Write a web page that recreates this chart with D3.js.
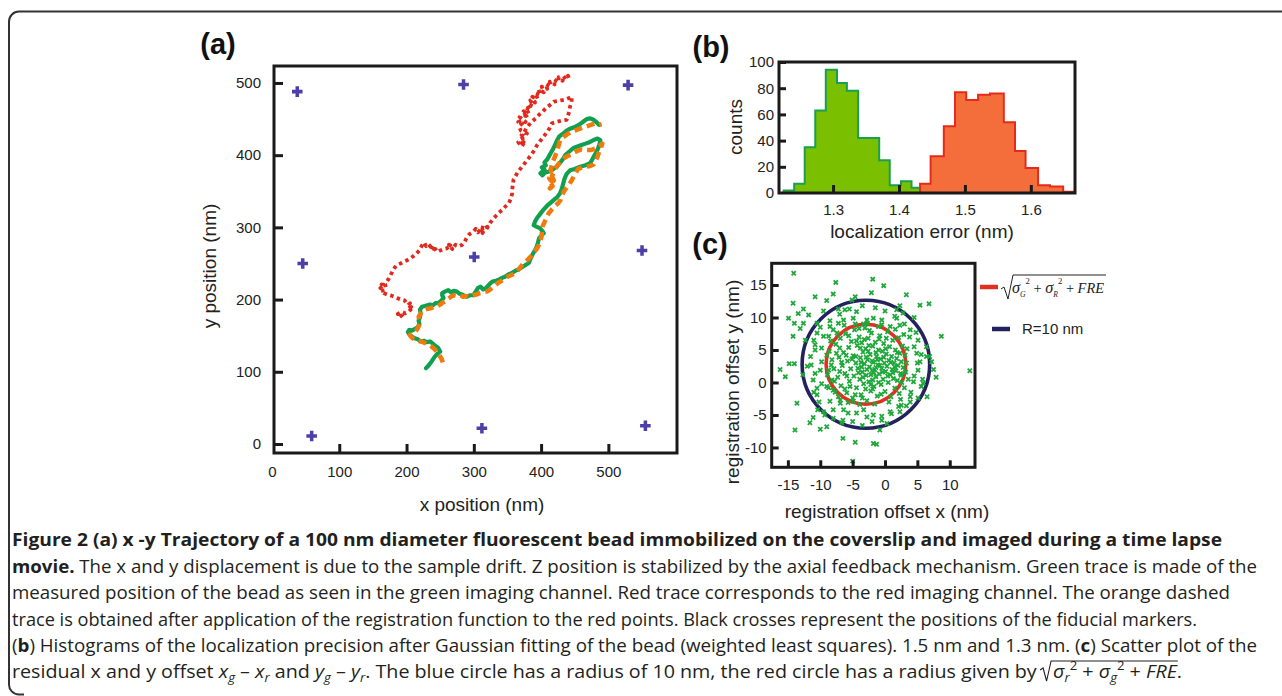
<!DOCTYPE html>
<html><head><meta charset="utf-8">
<script src="https://cdn.jsdelivr.net/npm/d3@7"></script>
<style>
html,body{margin:0;padding:0;background:#fff;}
svg{display:block;}
</style></head><body>
<svg id="fig" width="1282" height="696"></svg>
<script>
// ---------- Panel (a) data: trajectories (nm) ----------
const fiducials = [[37.6,488],[284.7,498],[529.3,497],[45.7,250],[300.6,259],[550,268],[59,11],[312,21.7],[555,25.3]];
const redTrace = [
[190,176],[194,179],[187,180],[193,183],[198,181],[203,183],[206,186],[201,188],[207,190],[202,192],[205,195],[199,196],[197,199],[192,200],[186,202],[181,204],[176,206],[171,207],[166,209],[162,212],[168,213],[161,216],[166,218],[163,221],[169,217],[168,222],[171,225],[173,228],[175,232],[178,237],[180,241],[183,245],[186,248],[191,250],[195,252],[200,254],[205,257],[210,260],[215,264],[219,268],[223,275],[226,279],[229,274],[232,277],[236,273],[239,276],[234,270],[240,271],[237,268],[243,270],[246,266],[250,268],[255,270],[260,271],[264,274],[268,270],[263,276],[270,272],[273,276],[278,274],[283,276],[286,279],[288,283],[291,288],[294,291],[299,294],[303,298],[306,293],[310,297],[313,292],[316,299],[309,301],[314,295],[320,301],[318,296],[324,306],[329,312],[333,316],[337,320],[342,324],[347,329],[352,333],[355,340],[357,347],[357,352],[358,359],[359,366],[362,371],[365,376],[370,382],[375,388],[380,394],[385,400],[390,407],[394,414],[399,420],[404,426],[409,432],[413,438],[416,444],[423,446],[431,448],[438,449],[440,455],[442,461],[443,467],[445,473],[446,481],[441,479],[436,477],[430,476],[425,475],[419,474],[414,470],[408,466],[402,460],[397,456],[392,451],[387,447],[382,442],[378,437],[375,432],[371,428],[377,425],[369,422],[374,418],[368,415],[376,419],[371,412],[366,418],[373,425],[379,430],[370,434],[367,440],[372,444],[366,446],[373,449],[377,446],[368,453],[375,456],[380,451],[374,461],[382,457],[377,466],[385,463],[380,471],[388,468],[384,476],[391,473],[387,481],[395,478],[391,486],[399,483],[396,491],[404,487],[401,495],[409,492],[407,499],[414,495],[413,502],[420,498],[419,505],[426,501],[426,508],[432,503],[433,510],[437,505],[440,510],[442,505]
];
const greenTrace = [
[229,105],[233,109],[237,114],[242,121],[246,125],[250,128],[247,133],[243,136],[239,139],[235,142],[230,141],[226,143],[221,142],[217,145],[213,146],[209,148],[205,151],[202,155],[204,158],[208,157],[212,159],[217,162],[219,166],[218,171],[220,176],[221,181],[220,186],[223,190],[227,191],[231,192],[235,193],[239,192],[243,195],[247,195],[251,198],[255,202],[253,206],[253,209],[257,211],[262,213],[266,210],[270,212],[275,211],[279,208],[283,207],[286,205],[290,204],[294,206],[299,206],[303,211],[306,216],[310,218],[314,214],[318,216],[321,219],[325,223],[328,225],[333,226],[338,228],[342,230],[347,232],[352,235],[357,237],[362,240],[367,242],[372,245],[377,248],[382,251],[384,256],[387,262],[390,267],[393,272],[395,278],[397,285],[401,289],[404,292],[401,296],[398,299],[393,301],[389,303],[391,308],[394,313],[399,319],[404,325],[409,330],[414,334],[419,338],[424,342],[428,347],[431,354],[433,361],[435,368],[438,374],[443,379],[450,381],[458,384],[466,386],[473,389],[476,394],[479,399],[482,404],[485,410],[487,416],[488,421],[484,423],[478,421],[472,418],[466,416],[460,414],[454,412],[448,410],[442,405],[436,400],[432,394],[428,389],[423,384],[417,380],[411,377],[406,376],[402,372],[399,375],[405,380],[401,383],[407,386],[405,390],[409,394],[412,399],[415,404],[418,409],[421,415],[424,421],[427,426],[433,430],[438,434],[444,437],[450,439],[456,442],[462,446],[468,450],[473,451],[478,449],[482,446],[486,442]
];
const orangeTrace = [
[254,113],[252,118],[248,124],[245,128],[241,132],[237,135],[232,138],[227,140],[222,142],[216,143],[211,145],[207,148],[205,151],[209,154],[213,156],[216,159],[218,163],[220,167],[219,172],[218,176],[221,181],[225,185],[230,187],[236,188],[241,190],[246,191],[250,193],[254,196],[258,198],[262,201],[266,204],[270,206],[275,205],[280,206],[284,204],[289,205],[294,204],[299,206],[304,207],[309,209],[314,210],[319,211],[323,213],[327,216],[331,219],[336,223],[341,226],[346,229],[351,232],[356,234],[361,236],[366,241],[371,247],[376,252],[381,256],[386,261],[390,266],[394,271],[397,276],[399,282],[401,289],[401,295],[402,301],[405,307],[408,313],[411,319],[416,325],[421,330],[426,334],[429,338],[431,344],[434,350],[438,355],[442,360],[446,366],[450,373],[455,381],[461,383],[467,384],[473,385],[478,387],[481,392],[484,398],[486,404],[489,410],[491,416],[486,412],[480,409],[474,407],[467,407],[460,408],[454,406],[448,403],[442,400],[436,397],[430,393],[426,388],[422,382],[419,376],[416,371],[419,365],[414,362],[417,357],[413,354],[419,360],[412,368],[416,374],[414,380],[416,386],[418,392],[421,399],[424,406],[426,413],[428,420],[433,425],[439,429],[444,432],[450,434],[456,436],[462,438],[468,440],[474,442],[480,444],[486,442],[490,443]
];
const trajTicksX = [0,100,200,300,400,500];
const trajTicksY = [0,100,200,300,400,500];

// ---------- Panel (b) data: histograms ----------
const greenEdges = [1.225,1.241,1.257,1.273,1.289,1.306,1.321,1.338,1.354,1.370,1.386,1.403,1.419,1.432];
const greenCounts = [2,7,35,63,94,84,78,42,42,25,6,9,4];
const redEdges = [1.432,1.448,1.468,1.485,1.502,1.520,1.538,1.559,1.576,1.592,1.611,1.629,1.649,1.667];
const redCounts = [7,28,51,77,71,75,76,54,32,19,6,5,1];
const histTicksX = [1.3,1.4,1.5,1.6];
const histTicksY = [0,20,40,60,80,100];

// ---------- Panel (c) data: registration offsets (nm) ----------
const offsets = [
[-14.1,16.8],[-1.9,15.9],[-7.6,15.4],[-0.2,14.9],[-2.1,13.8],[-8.0,13.6],[3.3,13.5],[-10.8,13.2],[-4.6,13.2],[-5.1,12.7],[-9.0,12.6],[-14.2,12.2],[5.4,11.9],[6.8,12.1],[2.3,11.8],[-12.6,11.3],[-7.2,11.3],[-13.4,10.6],[-11.8,10.4],[-14.9,9.9],[-9.5,11.0],[-14.0,9.1],[-12.6,9.1],[-13.1,8.3],[-14.2,7.1],[8.7,7.1],[-12.3,6.5],[6.9,4.0],[-16.2,2.0],[-14.8,2.9],[-14.0,2.9],[-15.4,0.9],[-12.7,1.2],[13.1,1.8],[7.5,2.0],[7.9,0.8],[-13.6,-3.2],[-11.6,-6.2],[-11.1,-5.4],[-13.9,-7.3],[-10.0,-7.2],[-9.0,-6.8],[-6.5,-8.6],[-4.6,-9.2],[-1.8,-9.4],[-1.3,-9.5],[-0.8,-7.3],[-5.0,-12.1],[-6.7,-6.2],[3.3,-3.6],[5.1,-2.4],[6.5,-2.2],[5.6,-0.6],[4.8,7.7],[2.8,10.7],[1.8,9.9],[4.5,10.0],[1.8,11.2],[-4.4,10.9],[-6.2,11.2],[-8.0,8.1],[-10.5,9.1],[-10.5,7.6],[-10.8,5.8],[-10.8,5.0],[-11.4,2.7],[-11.1,0.4],[-10.5,-0.9],[-10.5,-1.9],[-10.4,-4.2],[-9.3,-5.0],[-8.5,-2.9],[-8.0,-4.2],[-6.9,-3.2],[-6.4,-4.2],[-5.7,-4.7],[-4.4,-4.7],[-3.3,-4.2],[-2.8,-5.3],[-1.8,-5.0],[-0.5,-5.8],[0.3,-6.3],[0.8,-4.5],[2.3,-4.5],[2.1,-3.7],[3.9,-2.2],[6.4,5.5],[6.4,4.0],[7.2,3.2],[5.9,-0.1],[4.4,0.1],[5.1,1.9],[5.4,3.2],[4.9,4.5],[5.1,6.5],[3.9,8.1],[2.3,8.8],[0.8,8.6],[-0.5,9.6],[-1.8,9.9],[-2.8,9.6],[-3.3,9.0],[-4.9,9.9],[-6.4,9.6],[-7.2,9.1],[-8.5,8.6],[-9.5,7.1],[-8.7,7.1],[-9.8,5.3],[-9.0,4.2],[-9.8,3.2],[-8.7,1.9],[-10.0,1.9],[-8.2,0.4],[-9.0,-0.6],[-8.0,-1.2],[-7.2,-2.2],
[-12.0,2.5],[-11.5,4.0],[-11.0,-1.5],[-10.2,-3.0],[-9.5,-4.5],[-8.0,-5.5],[-6.5,-5.8],[-5.0,-6.0],[-3.5,-6.6],[-2.0,-6.0],[-0.5,-5.2],[1.0,-4.8],[2.5,-3.5],[4.0,-1.5],[4.5,1.0],[5.0,3.0],[4.5,5.5],[3.8,7.0],[3.0,9.0],[1.5,10.2],[0.0,11.0],[-1.5,11.5],[-3.5,11.8],[-5.5,11.3],[-7.0,10.5],[-8.5,9.5],[-10.0,8.5],[-11.0,6.5],[-9.8,-0.2],[-10.8,1.4],[3.9,-3.0],[5.8,0.5],[5.6,4.3],
[-8.6,4.8],[-8.2,3.5],[-7.9,2.1],[-7.6,5.9],[-7.3,0.8],[-7.1,3.9],[-6.9,6.8],[-6.8,-0.5],[-6.6,2.6],[-6.4,4.6],[-6.2,1.4],[-6.1,7.5],[-5.9,-1.6],[-5.8,3.3],[-5.6,5.4],[-5.5,0.2],[-5.3,2.1],[-5.2,6.3],[-5.0,-2.4],[-4.9,4.1],[-4.8,1.0],[-4.7,8.1],[-4.5,3.0],[-4.4,-0.8],[-4.3,5.7],[-4.2,2.2],[-4.0,7.0],[-3.9,0.5],[-3.8,3.8],[-3.7,-1.9],[-3.6,6.1],[-3.5,1.6],[-3.4,4.7],[-3.3,-0.2],[-3.2,2.9],[-3.1,8.4],[-3.0,5.2],[-2.9,1.1],[-2.8,-2.8],[-2.7,3.5],[-2.6,6.8],[-2.5,0.1],[-2.4,2.4],[-2.3,4.3],[-2.2,-1.3],[-2.1,7.6],[-2.0,1.8],[-1.9,5.6],[-1.8,3.1],[-1.7,-0.6],[-1.6,2.0],[-1.5,6.2],[-1.4,0.9],[-1.3,4.0],[-1.2,-2.1],[-1.1,2.7],[-1.0,5.0],[-0.9,1.3],[-0.8,7.2],[-0.7,3.6],[-0.6,-0.3],[-0.5,2.2],[-0.4,4.8],[-0.3,0.5],[-0.2,6.0],[-0.1,3.0],[0.0,-1.4],[0.1,1.7],[0.2,4.4],[0.3,2.5],[0.4,7.8],[0.5,0.0],[0.6,3.4],[0.7,5.5],[0.8,1.2],[0.9,-2.2],[1.0,4.0],[1.1,2.0],[1.2,6.5],[1.3,0.6],[1.4,3.0],[1.5,-0.9],[1.6,5.0],[1.7,1.8],[1.8,3.7],[1.9,0.3],[2.0,2.6],[2.1,6.9],[2.2,-1.7],[2.3,4.5],[2.4,1.4],[2.5,3.2],[2.6,0.0],[2.7,5.6],[2.8,2.3],[3.0,-0.8],[3.1,4.2],[3.2,1.6],[-8.4,6.4],[-7.7,-1.5],[-7.4,7.6],[-6.9,-2.7],[-6.3,8.8],[-5.7,-3.1],[-4.6,9.0],[-3.9,-3.4],[-2.7,9.1],[-1.6,-3.3],[-0.5,8.9],[0.6,-3.0],[1.6,8.2],[2.4,-2.6],[2.9,7.4],[-8.9,1.2],[-8.7,-0.8],[-7.0,1.7],[-5.4,-0.6],[-4.1,1.5],[-2.9,3.9],[-1.9,0.4],[-0.8,2.6],[0.4,1.0],[1.5,2.4],[-6.0,4.2],[-4.4,6.4],[-2.5,5.7],[-1.2,3.5],[0.1,5.2],[-3.6,2.4],[-2.2,1.2],[-1.0,0.0],[-3.0,-1.0],[-4.6,-1.9],[-5.1,3.6],[-3.4,0.8],[-2.0,3.3],[-0.4,1.6],[-1.4,4.6],[-2.8,2.0],[-3.8,5.3],[-5.9,1.0],[-6.7,3.1],[-7.5,4.5],[0.9,3.1],[1.9,4.6],[2.5,1.1],[-0.6,-1.8],[-1.9,-1.0],[-3.5,-2.4],[-4.9,-2.9],[-6.2,-1.0],[-7.8,0.2],[-8.3,2.7],[3.3,3.0],[3.6,0.5],[3.4,5.2],[-2.4,8.0],[-4.0,8.3],[-1.0,8.6],[0.2,6.8],[-5.6,7.2],[-7.0,5.3],[-1.7,1.5],[-2.6,4.8],[-0.2,3.9],[1.2,1.5],[-4.5,4.0],[-3.2,6.6],[-2.2,-0.3],[-0.9,6.7],[-3.7,3.1],[-1.4,2.3]
];
const circleCenter = [-2.95, 2.8];
const radiusBlue = 9.85;
const radiusRed = 6.15;
const scatTicksX = [-15,-10,-5,0,5,10];
const scatTicksY = [-10,-5,0,5,10,15];

// ---------- drawing ----------
const svg = d3.select("#fig");
const SANS = "'Liberation Sans', Arial, sans-serif";
const INK = "#1a1a1a";

svg.append("path")
  .attr("d","M1282,11.5 H19 A10,10 0 0 0 9,21.5 V684 A10,10 0 0 0 19,694.5 H24")
  .attr("fill","none").attr("stroke","#333").attr("stroke-width",2);

function axes(g, x, y, xt, yt, o) {
  const xb = y.range()[0], yl = x.range()[0];
  const ax = g.append("g").attr("transform",`translate(0,${xb})`)
    .call(d3.axisBottom(x).tickValues(xt).tickSize(-o.xLen).tickPadding(o.xPad).tickFormat(o.fmtX || (d=>String(d))));
  const ay = g.append("g").attr("transform",`translate(${yl},0)`)
    .call(d3.axisLeft(y).tickValues(yt).tickSize(-o.yLen).tickPadding(o.yPad).tickFormat(d=>String(d)));
  [ax, ay].forEach(a => {
    a.select(".domain").remove();
    a.selectAll("line").attr("stroke",INK).attr("stroke-width",o.tw);
    a.selectAll("text").attr("font-family",SANS).attr("font-size",o.fs).attr("fill","#222");
  });
  if (o.hideX) ax.selectAll(".tick").filter(d=>o.hideX.includes(d)).select("line").remove();
  if (o.hideY) ay.selectAll(".tick").filter(d=>o.hideY.includes(d)).select("line").remove();
  const [x0,x1] = x.range(), [y0,y1] = y.range();
  g.append("rect").attr("x",x0).attr("y",y1).attr("width",x1-x0).attr("height",y0-y1)
    .attr("fill","none").attr("stroke",INK).attr("stroke-width",o.fw);
}
function label(t, x, y, fs, opts={}) {
  const e = svg.append("text").attr("x",x).attr("y",y).attr("font-family",SANS)
    .attr("font-size",fs).attr("fill",opts.fill||"#222").attr("text-anchor",opts.anchor||"middle").text(t);
  if (opts.bold) e.attr("font-weight","bold");
  if (opts.rot) e.attr("transform",`rotate(-90,${x},${y})`);
  return e;
}

// ===== Panel (a) =====
const xA = d3.scaleLinear().domain([3,602]).range([274,677]);
const yA = d3.scaleLinear().domain([-12.5,523.5]).range([453,66]);
const gA = svg.append("g");
svg.append("defs").append("clipPath").attr("id","clipA")
  .append("rect").attr("x",274).attr("y",66).attr("width",403).attr("height",387);
const lineA = d3.line().x(d=>xA(d[0])).y(d=>yA(d[1]));
const plotA = gA.append("g").attr("clip-path","url(#clipA)");
plotA.append("path").attr("d",lineA(redTrace)).attr("fill","none").attr("stroke","#e1291d")
  .attr("stroke-width",3.8).attr("stroke-dasharray","3.5,3.5").attr("stroke-linejoin","round");
plotA.append("path").attr("d",lineA(greenTrace)).attr("fill","none").attr("stroke","#11a04f")
  .attr("stroke-width",4.2).attr("stroke-linejoin","round").attr("stroke-linecap","round");
plotA.append("path").attr("d",lineA(orangeTrace)).attr("fill","none").attr("stroke","#f27a0b")
  .attr("stroke-width",4.5).attr("stroke-dasharray","8,5").attr("stroke-linejoin","round");
plotA.selectAll(".fid").data(fiducials).join("path").attr("class","fid")
  .attr("d",d3.symbol(d3.symbolCross,62)())
  .attr("transform",d=>`translate(${xA(d[0])},${yA(d[1])})`).attr("fill","#4c3fa8");
axes(gA, xA, yA, trajTicksX, trajTicksY, {xLen:9,yLen:9,xPad:13,yPad:13,fs:15,tw:3,fw:3,hideX:[0]});
label("x position (nm)", 482, 511, 19);
label("y position (nm)", 216, 266, 19, {rot:true});
label("(a)", 218, 54, 29, {bold:true, fill:"#111"});

// ===== Panel (b) =====
const xB = d3.scaleLinear().domain([1.218,1.667]).range([779,1075]);
const yB = d3.scaleLinear().domain([0,100]).range([193,62]);
const gB = svg.append("g");
function stepPts(edges, counts) {
  const p = [[edges[0],0]];
  counts.forEach((c,i)=>p.push([edges[i],c]));
  p.push([edges[edges.length-1],counts[counts.length-1]]);
  p.push([edges[edges.length-1],0]);
  return p;
}
const areaB = d3.area().curve(d3.curveStepAfter).x(d=>xB(d[0])).y0(yB(0)).y1(d=>yB(d[1]));
const lineB = d3.line().curve(d3.curveStepAfter).x(d=>xB(d[0])).y(d=>yB(d[1]));
[[greenEdges,greenCounts,"#7ac000","#19a04e"],[redEdges,redCounts,"#f36e3b","#e52a1c"]].forEach(([e,c,f,s])=>{
  const p = stepPts(e,c);
  gB.append("path").attr("d",areaB(p)).attr("fill",f);
  gB.append("path").attr("d",lineB(p)).attr("fill","none").attr("stroke",s).attr("stroke-width",2);
});
axes(gB, xB, yB, histTicksX, histTicksY, {xLen:8,yLen:7,xPad:11,yPad:5,fs:15,tw:3,fw:3,hideY:[0],fmtX:d3.format(".1f")});
label("localization error (nm)", 922, 238, 19);
label("counts", 742, 127, 19, {rot:true});
label("(b)", 711, 57, 29, {bold:true, fill:"#111"});

// ===== Panel (c) =====
const xC = d3.scaleLinear().domain([-17.5,13.9]).range([771.7,975]);
const yC = d3.scaleLinear().domain([-13.05,18.34]).range([467.3,263.3]);
const gC = svg.append("g");
const [cx, cy] = circleCenter;
[[radiusBlue,"#24225e"],[radiusRed,"#e1301f"]].forEach(([r,col])=>{
  gC.append("ellipse").attr("cx",xC(cx)).attr("cy",yC(cy))
    .attr("rx",xC(cx+r)-xC(cx)).attr("ry",yC(cy)-yC(cy+r))
    .attr("fill","none").attr("stroke",col).attr("stroke-width",3.6);
});
gC.selectAll(".pt").data(offsets).join("path").attr("class","pt")
  .attr("d","M-2.1,-2.1L2.1,2.1M-2.1,2.1L2.1,-2.1")
  .attr("transform",d=>`translate(${xC(d[0])},${yC(d[1])})`)
  .attr("stroke","#1fa83a").attr("stroke-width",1.8).attr("fill","none");
axes(gC, xC, yC, scatTicksX, scatTicksY, {xLen:7,yLen:7,xPad:12,yPad:5,fs:15,tw:3,fw:3});
label("registration offset x (nm)", 887, 518, 19);
label("registration offset y (nm)", 739, 382, 19, {rot:true});
label("(c)", 710, 254, 29, {bold:true, fill:"#111"});

// legend (c)
svg.append("line").attr("x1",980).attr("x2",998).attr("y1",287).attr("y2",287).attr("stroke","#e1301f").attr("stroke-width",4.5);
svg.append("line").attr("x1",992).attr("x2",1010).attr("y1",329).attr("y2",329).attr("stroke","#24225e").attr("stroke-width",4.5);
label("R=10 nm", 1022, 334, 15, {anchor:"start"});
svg.append("path").attr("d","M1001,289 L1004,287 L1008,299 L1013,275 L1106,275")
  .attr("fill","none").attr("stroke","#222").attr("stroke-width",1);
const SERIF = "'Liberation Serif','Times New Roman',serif";
const fml = svg.append("text").attr("x",1012).attr("y",293).attr("font-family",SERIF)
  .attr("font-size",17).attr("font-style","italic").attr("fill","#222")
  .attr("textLength",92).attr("lengthAdjust","spacingAndGlyphs");
[["σ",0,17],["G",4,8],["2",-13,9],[" + ",9,15],["σ",0,17],["R",4,8],["2",-13,9],[" + ",9,15],["FRE",0,15]].forEach(([t,dy,fs])=>{
  const s = fml.append("tspan").attr("dy",dy).attr("font-size",fs).text(t);
  if (t==="2"||t===" + ") s.attr("font-style","normal");
});

// ===== Caption =====
const CAP = "'Open Sans','Noto Sans',sans-serif";
const capG = svg.append("g").attr("font-family",CAP).attr("font-size",18).attr("fill","#231f20");
function capLine(y, parts, len) {
  const t = capG.append("text").attr("x",12).attr("y",y)
    .attr("textLength",len).attr("lengthAdjust","spacingAndGlyphs");
  parts.forEach(p=>{
    const s=t.append("tspan").text(p.t);
    if(p.b) s.attr("font-weight","bold");
    if(p.i) s.attr("font-style","italic");
    if(p.fs) s.attr("font-size",p.fs);
    if(p.dy) s.attr("dy",p.dy);
  });
  return t;
}
capLine(546,[{t:"Figure 2 (a) x -y Trajectory of a 100 nm diameter fluorescent bead immobilized on the coverslip and imaged during a time lapse",b:1}],1210);
capLine(572.5,[{t:"movie.",b:1},{t:" The x and y displacement is due to the sample drift. Z position is stabilized by the axial feedback mechanism. Green trace is made of the"}],1245);
capLine(599,[{t:"measured position of the bead as seen in the green imaging channel. Red trace corresponds to the red imaging channel. The orange dashed"}],1218);
capLine(625.5,[{t:"trace is obtained after application of the registration function to the red points. Black crosses represent the positions of the fiducial markers."}],1185);
capLine(652,[{t:"("},{t:"b",b:1},{t:") Histograms of the localization precision after Gaussian fitting of the bead (weighted least squares). 1.5 nm and 1.3 nm. ("},{t:"c",b:1},{t:") Scatter plot of the"}],1245);
const GAP = "\u2009\u2009\u2009\u2009\u2009";
const l6parts = [
  {t:"residual x and y offset "},{t:"x",i:1},{t:"g",i:1,fs:12,dy:4},{t:" – ",dy:-4},{t:"x",i:1},{t:"r",i:1,fs:12,dy:4},
  {t:" and ",dy:-4},{t:"y",i:1},{t:"g",i:1,fs:12,dy:4},{t:" – ",dy:-4},{t:"y",i:1},{t:"r",i:1,fs:12,dy:4},
  {t:". The blue circle has a radius of 10 nm, the red circle has a radius given by",dy:-4},
  {t:GAP},
  {t:"σ",i:1},{t:"r",i:1,fs:12,dy:4},{t:"2",fs:12,dy:-12},{t:" + ",dy:8},
  {t:"σ",i:1},{t:"g",i:1,fs:12,dy:4},{t:"2",fs:12,dy:-12},{t:" + ",dy:8},
  {t:"FRE",i:1},{t:"."}
];
const line6 = capLine(678, l6parts, 1170);
// radical sign over the formula, located from the laid-out glyph positions
(function(){
  const node = line6.node();
  const full = l6parts.map(p=>p.t).join("");
  const startIdx = full.indexOf(GAP + "σ") + GAP.length;
  const endIdx = full.lastIndexOf("FRE") + 2;
  try {
    const sx = node.getStartPositionOfChar(startIdx).x;
    const ex = node.getEndPositionOfChar(endIdx).x;
    capG.append("path")
      .attr("d",`M${sx-13},670 L${sx-10},668 L${sx-6.5},681 L${sx-2},661 L${ex+1},661`)
      .attr("fill","none").attr("stroke","#231f20").attr("stroke-width",1.1);
  } catch(e) {}
})();
</script>
</body></html>
